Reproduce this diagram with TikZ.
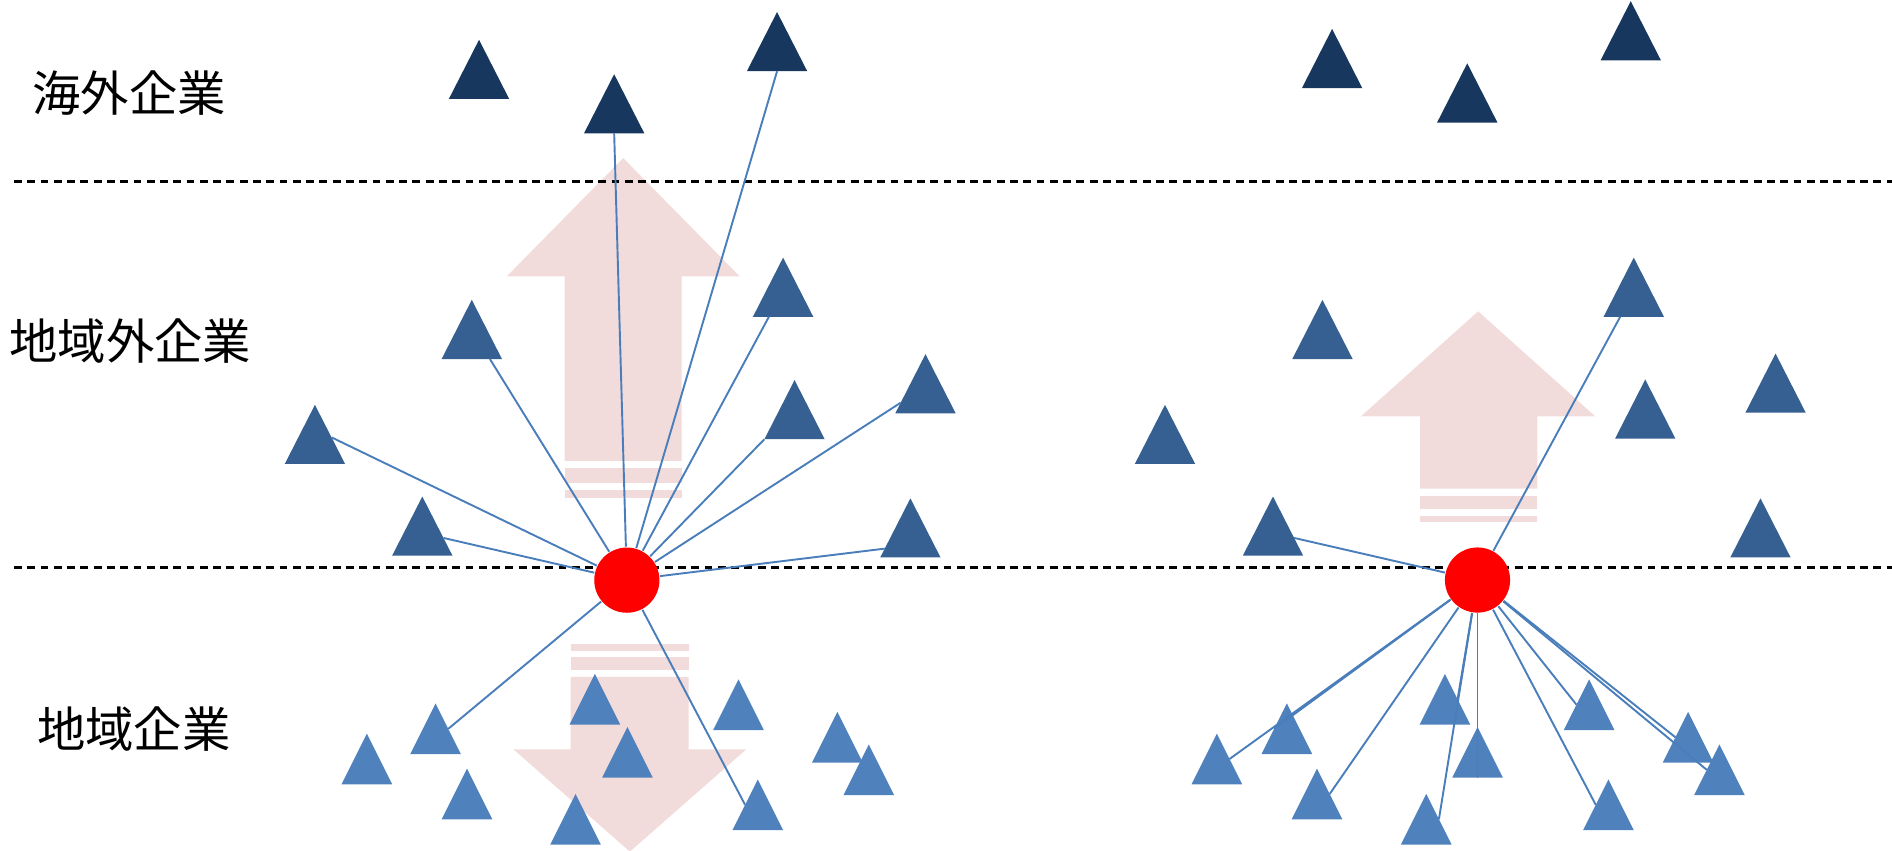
\documentclass[tikz,border=0pt]{standalone}
\usepackage{fontspec}
\newfontfamily\jpfont{Noto Sans CJK JP}
\usepackage{xcolor}
\usepackage{tikz}
\usetikzlibrary{calc}

\definecolor{navy}{HTML}{17375E}
\definecolor{steel}{HTML}{366092}
\definecolor{sky}{HTML}{4F81BD}
\definecolor{wire}{HTML}{4A7EBB}
\definecolor{blush}{HTML}{F2DCDB}

\begin{document}
\begin{tikzpicture}[
    x=0.01cm, y=-0.01cm,
    firm/.style={minimum width=0.5cm, minimum height=0.49cm,
                 inner sep=0pt, outer sep=0pt,
                 path picture={\fill[#1] (path picture bounding box.south west)
                     -- (path picture bounding box.south east)
                     -- (path picture bounding box.north) -- cycle;}},
    ovsfirm/.style={firm=navy},
    extfirm/.style={firm=steel},
    locfirm/.style={firm=sky, minimum width=0.42cm, minimum height=0.42cm},
    hub/.style={circle, fill=red, minimum size=0.54cm, inner sep=0pt},
    link/.style={draw=wire, line width=0.45pt},
    border/.style={dash pattern=on 0.065cm off 0.045cm, line width=0.6pt},
    lbl/.style={font=\jpfont\fontsize{11.4pt}{13pt}\selectfont}
]
    \useasboundingbox (0,0) rectangle (1568,705);

    % flows
    \fill[blush] (516.5,131) -- (613,229) -- (565,229) -- (565,382)
        -- (468,382) -- (468,229) -- (420,229) -- cycle;
    \fill[blush] (468,388) rectangle (565,400);
    \fill[blush] (468,406) rectangle (565,412.5);
    \fill[blush] (473,533.7) rectangle (570.6,539.3);
    \fill[blush] (473,544.5) rectangle (570.6,555.3);
    \fill[blush] (473,561) -- (570.6,561) -- (570.6,621) -- (618.5,621)
        -- (522,705.8) -- (425.5,621) -- (473,621) -- cycle;
    \fill[blush] (1225,258) -- (1322,345) -- (1274,345) -- (1274,405)
        -- (1177,405) -- (1177,345) -- (1128,345) -- cycle;
    \fill[blush] (1177,411) rectangle (1274,422);
    \fill[blush] (1177,427.5) rectangle (1274,433);

    \draw[border] (11.6,150.6) -- (1568,150.6);
    \draw[border] (11.6,470.5) -- (1568,470.5);

    \node[lbl] (ovs) at (107,76.7) {海外企業};
    \node[lbl] (ext) at (108,283)  {地域外企業};
    \node[lbl] (loc) at (111,604)  {地域企業};

    \node[ovsfirm] (t1) at (397,57.5)  {};
    \node[ovsfirm] (t2) at (509,86)    {};
    \node[ovsfirm] (t3) at (644,34.5)  {};
    \node[ovsfirm] (t4) at (1104,48.5) {};
    \node[ovsfirm] (t5) at (1216,77)   {};
    \node[ovsfirm] (t6) at (1351.5,25.5) {};

    \node[extfirm] (m1)  at (391,273)     {};
    \node[extfirm] (m2)  at (649,238)     {};
    \node[extfirm] (m3)  at (261,360)     {};
    \node[extfirm] (m4)  at (658.5,339.5) {};
    \node[extfirm] (m5)  at (767,318)     {};
    \node[extfirm] (m6)  at (350,436)     {};
    \node[extfirm] (m7)  at (754.5,437.5) {};
    \node[extfirm] (m8)  at (1096,273)    {};
    \node[extfirm] (m9)  at (1354,238)    {};
    \node[extfirm] (m10) at (965.5,360)   {};
    \node[extfirm] (m11) at (1363.5,339)  {};
    \node[extfirm] (m12) at (1471.5,317.5) {};
    \node[extfirm] (m13) at (1055,436)    {};
    \node[extfirm] (m14) at (1459,437.5)  {};

    \node[locfirm] (b1)  at (304,629)   {};
    \node[locfirm] (b2)  at (361,604)   {};
    \node[locfirm] (b3)  at (387,658)   {};
    \node[locfirm] (b4)  at (493,579.5) {};
    \node[locfirm] (b5)  at (520,623.5) {};
    \node[locfirm] (b6)  at (477,679)   {};
    \node[locfirm] (b7)  at (612,584)   {};
    \node[locfirm] (b8)  at (694,611)   {};
    \node[locfirm] (b9)  at (720,638)   {};
    \node[locfirm] (b10) at (628,667)   {};
    \node[locfirm] (r1)  at (1008.5,629) {};
    \node[locfirm] (r2)  at (1066.5,604) {};
    \node[locfirm] (r3)  at (1091.5,658) {};
    \node[locfirm] (r4)  at (1197.5,579.5) {};
    \node[locfirm] (r5)  at (1224.5,623.5) {};
    \node[locfirm] (r6)  at (1182,679)  {};
    \node[locfirm] (r7)  at (1317,584)  {};
    \node[locfirm] (r8)  at (1399,611)  {};
    \node[locfirm] (r9)  at (1425,638)  {};
    \node[locfirm] (r10) at (1333,667)  {};

    \node[hub] (hl) at (519.5,480.8) {};
    \node[hub] (hr) at (1224.5,480.7) {};

    % ties of the left firm
    \draw[link] (hl) -- (t2.south);
    \draw[link] (hl) -- (t3.south);
    \draw[link] (hl) -- ($(m1.south)!.6!(m1.south east)$);
    \draw[link] (hl) -- ($(m2.south)!.47!(m2.south west)$);
    \draw[link] (hl) -- ($(m3.north)!.55!(m3.south east)$);
    \draw[link] (hl) -- (m4.south west);
    \draw[link] (hl) -- ($(m5.north)!.82!(m5.south west)$);
    \draw[link] (hl) -- ($(m6.north)!.7!(m6.south east)$);
    \draw[link] (hl) -- ($(m7.north)!.85!(m7.south west)$);
    \draw[link] (hl) -- ($(b2.north)!.5!(b2.south east)$);
    \draw[link] (hl) -- ($(b10.north)!.5!(b10.south west)$);

    % ties of the right firm
    \draw[link] (hr) -- ($(m9.south)!.45!(m9.south west)$);
    \draw[link] (hr) -- ($(m13.north)!.7!(m13.south east)$);
    \draw[link] (hr) -- ($(r1.north)!.5!(r1.south east)$);
    \draw[link] (hr) -- ($(r2.north)!.5!(r2.south west)$);
    \draw[link] (hr) -- ($(r3.north)!.5!(r3.south east)$);
    \draw[link] (hr) -- ($(r4.north)!.5!(r4.south east)$);
    \draw[link] (hr) -- (r5.south);
    \draw[link] (hr) -- ($(r6.north)!.5!(r6.south east)$);
    \draw[link] (hr) -- ($(r7.north)!.5!(r7.south west)$);
    \draw[link] (hr) -- ($(r8.north)!.5!(r8.south west)$);
    \draw[link] (hr) -- ($(r9.north)!.5!(r9.south west)$);
    \draw[link] (hr) -- ($(r10.north)!.5!(r10.south west)$);
\end{tikzpicture}
\end{document}
